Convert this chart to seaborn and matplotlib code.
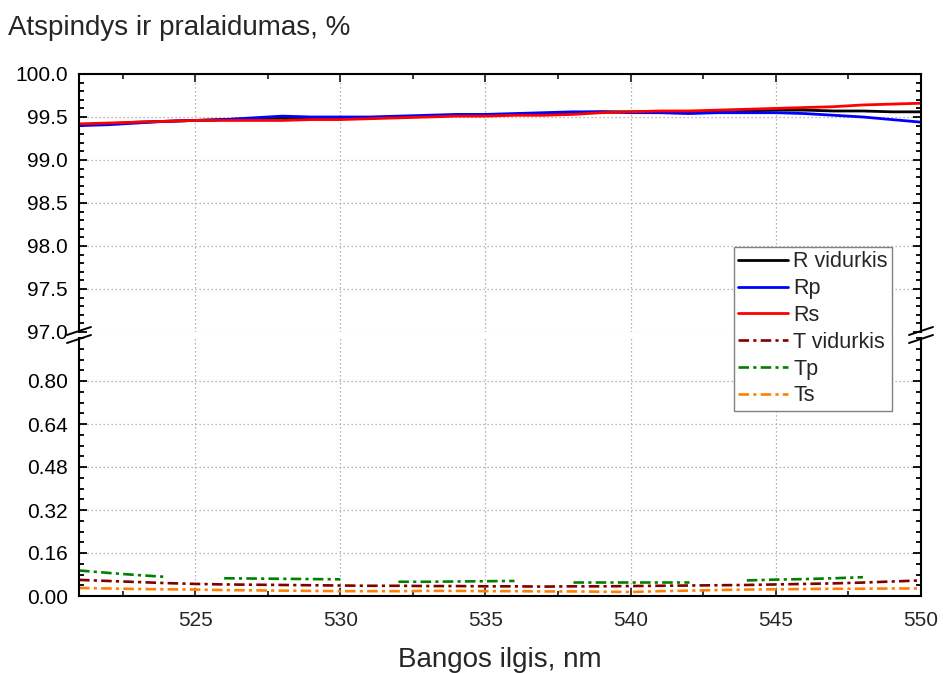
import numpy as np
import pandas as pd
import matplotlib
matplotlib.use("Agg")
import matplotlib.pyplot as plt
from matplotlib.lines import Line2D
from matplotlib.ticker import MultipleLocator, FixedLocator
import seaborn as sns

# Wavelength grid, nm
wavelength = list(range(521, 551))

# Reflectance, %
r_avg = [99.41, 99.42, 99.44, 99.45, 99.46, 99.47, 99.48, 99.49, 99.49, 99.49,
         99.49, 99.50, 99.51, 99.52, 99.52, 99.53, 99.54, 99.55, 99.56, 99.56,
         99.56, 99.56, 99.57, 99.57, 99.58, 99.58, 99.57, 99.57, 99.56, 99.56]
r_p = [99.40, 99.41, 99.43, 99.45, 99.46, 99.47, 99.49, 99.51, 99.50, 99.50,
       99.50, 99.51, 99.52, 99.53, 99.53, 99.54, 99.55, 99.56, 99.56, 99.55,
       99.55, 99.54, 99.55, 99.55, 99.55, 99.54, 99.52, 99.50, 99.47, 99.44]
r_s = [99.42, 99.43, 99.44, 99.45, 99.46, 99.46, 99.46, 99.46, 99.47, 99.47,
       99.48, 99.49, 99.50, 99.51, 99.51, 99.52, 99.52, 99.53, 99.55, 99.56,
       99.57, 99.57, 99.58, 99.59, 99.60, 99.61, 99.62, 99.64, 99.65, 99.66]

# Transmittance, %
t_avg = [0.060, 0.056, 0.052, 0.048, 0.045, 0.043, 0.042, 0.041, 0.040, 0.039,
         0.038, 0.038, 0.037, 0.037, 0.036, 0.036, 0.035, 0.036, 0.036, 0.037,
         0.038, 0.039, 0.040, 0.041, 0.043, 0.045, 0.047, 0.050, 0.054, 0.058]
t_p = [0.095, 0.086, 0.078, 0.071, np.nan, 0.066, 0.065, 0.064, 0.063, 0.062,
       np.nan, 0.053, 0.053, 0.054, 0.055, 0.056, np.nan, 0.053, 0.053, 0.053,
       0.053, 0.053, np.nan, 0.058, 0.061, 0.063, 0.066, 0.070, np.nan, np.nan]
t_s = [0.030, 0.028, 0.026, 0.025, 0.024, 0.022, 0.021, 0.020, 0.019, 0.018,
       0.018, 0.018, 0.019, 0.019, 0.018, 0.018, 0.017, 0.017, 0.016, 0.015,
       0.018, 0.020, 0.022, 0.024, 0.025, 0.026, 0.027, 0.027, 0.028, 0.028]

series_names = ["R vidurkis", "Rp", "Rs", "T vidurkis", "Tp", "Ts"]
series_values = [r_avg, r_p, r_s, t_avg, t_p, t_s]
series_colors = ["#000000", "#0000ff", "#ff0000", "#800000", "#008000", "#ff8000"]

x_ticks = [525, 530, 535, 540, 545, 550]
y_ticks_top = [97.0, 97.5, 98.0, 98.5, 99.0, 99.5, 100.0]
y_ticks_bottom = [0.00, 0.16, 0.32, 0.48, 0.64, 0.80]

sns.set_style("ticks")
plt.rcParams["font.family"] = ["Liberation Sans", "DejaVu Sans"]

# long-form table; every unbroken run of a series gets its own segment id
frames = []
for name, vals in zip(series_names, series_values):
    v = np.asarray(vals, dtype=float)
    seg = np.cumsum(np.isnan(v))
    df = pd.DataFrame({"wl": wavelength, "value": v, "series": name, "seg": seg})
    frames.append(df.dropna())
data = pd.concat(frames, ignore_index=True)

W, H = 943, 673
fig = plt.figure(figsize=(W / 100, H / 100), dpi=100)


def box(l, t, r, b):
    return [l / W, 1 - b / H, (r - l) / W, (b - t) / H]


ax_top = fig.add_axes(box(79, 74, 921, 332))
ax_bot = fig.add_axes(box(79, 338, 921, 596), sharex=ax_top)

dashdot = (0, (4.0, 1.6, 1.2, 1.6))
for name, color in zip(series_names, series_colors):
    sub = data[data["series"] == name]
    is_r = name.startswith("R")
    ax = ax_top if is_r else ax_bot
    sns.lineplot(data=sub, x="wl", y="value", units="seg", estimator=None,
                 ax=ax, color=color, lw=2.0 if is_r else 1.9,
                 linestyle="-" if is_r else dashdot, label=name, legend=False)

ax_top.set_xlim(521, 550)
ax_top.set_ylim(97.0, 100.0)
ax_bot.set_ylim(0.0, 0.96)

ax_top.yaxis.set_major_locator(FixedLocator(y_ticks_top))
ax_top.yaxis.set_minor_locator(MultipleLocator(0.1))
ax_top.set_yticklabels([f"{t:.1f}" for t in y_ticks_top])
ax_bot.yaxis.set_major_locator(FixedLocator(y_ticks_bottom))
ax_bot.yaxis.set_minor_locator(MultipleLocator(0.04))
ax_bot.set_yticklabels([f"{t:.2f}" for t in y_ticks_bottom])
ax_bot.xaxis.set_major_locator(FixedLocator(x_ticks))
ax_bot.xaxis.set_minor_locator(MultipleLocator(2.5))
ax_bot.set_xticklabels([str(t) for t in x_ticks])

for ax in (ax_top, ax_bot):
    ax.set_xlabel("")
    ax.set_ylabel("")
    ax.grid(True, which="major", color="#a0a0a0", linestyle=(0, (1, 2.2)), lw=0.9)
    for s in ax.spines.values():
        s.set_linewidth(1.5)
        s.set_color("black")
    ax.tick_params(axis="y", which="both", direction="in", left=True, right=True,
                   width=1.3, labelsize=15, pad=8, colors="black")
    ax.tick_params(axis="y", which="major", length=6)
    ax.tick_params(axis="y", which="minor", length=3.5)
    ax.set_facecolor("white")

ax_top.spines["bottom"].set_visible(False)
ax_bot.spines["top"].set_visible(False)
ax_top.tick_params(axis="x", which="both", bottom=False, labelbottom=False,
                   top=True, direction="in", width=1.3)
ax_top.tick_params(axis="x", which="major", length=6)
ax_top.tick_params(axis="x", which="minor", length=3.5)
ax_bot.tick_params(axis="x", which="both", top=False, bottom=True, direction="in",
                   width=1.3, labelsize=15, pad=11)
ax_bot.tick_params(axis="x", which="major", length=6)
ax_bot.tick_params(axis="x", which="minor", length=3.5)

# axis-break marks on both vertical spines
for xs in (79, 921):
    for yc in (331, 339):
        fig.add_artist(Line2D([(xs - 12) / W, (xs + 12) / W],
                              [1 - (yc + 4) / H, 1 - (yc - 4) / H],
                              color="black", lw=1.4))

fig.text(8 / W, 1 - 28 / H, "Atspindys ir pralaidumas, %", fontsize=20,
         ha="left", va="center")
fig.text(500 / W, 1 - 660 / H, "Bangos ilgis, nm", fontsize=20,
         ha="center", va="center")

# combined legend for both panels
handles, labels = [], []
for ax in (ax_top, ax_bot):
    h, l = ax.get_legend_handles_labels()
    for hh, ll in zip(h, l):
        if ll not in labels:
            handles.append(hh)
            labels.append(ll)
leg = fig.legend(handles, labels, loc="upper left",
                 bbox_to_anchor=(734 / W, 1 - 247 / H), fontsize=15.5,
                 frameon=True, fancybox=False, edgecolor="#808080",
                 framealpha=1, handlelength=2.3, handletextpad=0.25,
                 labelspacing=0.27, borderpad=0.2, borderaxespad=0)
leg.get_frame().set_linewidth(1.0)

fig.savefig("out.png", dpi=100, facecolor="white")
